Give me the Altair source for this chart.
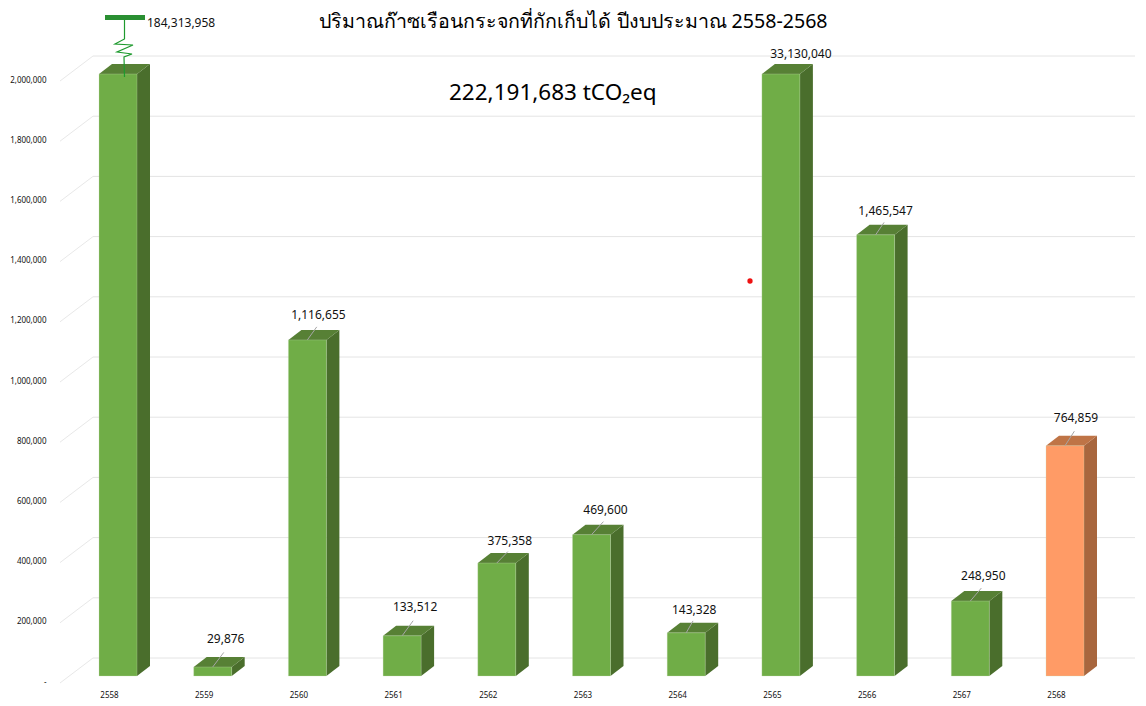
import altair as alt
import pandas as pd

TITLE = "ปริมาณก๊าซเรือนกระจกที่กักเก็บได้ ปีงบประมาณ 2558-2568"
TOTAL = "222,191,683 tCO₂eq"
FONT = "Noto Sans"

years = [2558, 2559, 2560, 2561, 2562, 2563, 2564, 2565, 2566, 2567, 2568]
values = [184313958, 29876, 1116655, 133512, 375358, 469600, 143328,
          33130040, 1465547, 248950, 764859]
tick_values = [0, 200000, 400000, 600000, 800000, 1000000, 1200000,
               1400000, 1600000, 1800000, 2000000]
axis_cap = 2000000

# label placement relative to each bar top, pixels
label_dx = [0, 13, 11, 13, 13, 14, 8, 20, 10, 13, 11]
label_dy = [0, -28, -25, -29, -22, -25, -23, -20, -24, -25, -28]

PX_PER_CAT = 94.7
PX_PER_VAL = 0.000301
W, H = 1075, 680
X0 = (60 - 118) / PX_PER_CAT
X1 = (1135 - 118) / PX_PER_CAT
Y0 = -12 / PX_PER_VAL
Y1 = 668 / PX_PER_VAL


def hx(px):
    return px / PX_PER_CAT


def hy(px):
    return px / PX_PER_VAL


half = hx(19)
dep_x = hx(13)
dep_y = hy(10)

xs = alt.Scale(domain=[X0, X1], nice=False, zero=False)
ys = alt.Scale(domain=[Y0, Y1], nice=False, zero=False)

FRONT, SIDE, TOPF = "#70AD47", "#4A6E2C", "#578035"
FRONT_O, SIDE_O, TOPF_O = "#FF9B66", "#A8663E", "#BF7446"

front, side, top, leaders, labels = [], [], [], [], []
for i, (yr, v) in enumerate(zip(years, values)):
    s = min(v, axis_cap)
    last = yr == 2568
    f, sd, t = (FRONT_O, SIDE_O, TOPF_O) if last else (FRONT, SIDE, TOPF)
    front.append(dict(year=yr, x=i - half, x2=i + half, y=0, y2=s, c=f))
    for x, lo, hi in [(i + half, 0, s), (i + half + dep_x, dep_y, s + dep_y)]:
        side.append(dict(year=yr, x=x, lo=lo, hi=hi, c=sd))
    for x, lo, hi in [(i - half, s, s), (i - half + dep_x, s, s + dep_y),
                      (i + half, s, s + dep_y), (i + half + dep_x, s + dep_y, s + dep_y)]:
        top.append(dict(year=yr, x=x, lo=lo, hi=hi, c=t))
    if i == 0:
        labels.append(dict(x=i + hx(29), y=axis_cap + hy(51), t=f"{v:,}", a="left"))
        continue
    dx, dy = label_dx[i], label_dy[i]
    labels.append(dict(x=i + hx(dx), y=s - hy(dy), t=f"{v:,}", a="center"))
    if yr != 2565:
        leaders.append(dict(x=i, x2=i + hx(dx * 0.85), y=s, y2=s - hy(dy * 0.52)))

front_df = pd.DataFrame(front)
side_df = pd.DataFrame(side)
top_df = pd.DataFrame(top)
leader_df = pd.DataFrame(leaders)
label_df = pd.DataFrame(labels)
grid_df = pd.DataFrame({"v": tick_values})
grid_df["back"] = grid_df.v + hy(18)
grid_df["low"] = grid_df.v - hy(7)
grid_df["xa"] = X0
grid_df["xb"] = X0 + hx(33)
grid_df["xc"] = X1

x_axis = alt.Axis(values=list(range(11)), domain=False, ticks=False, grid=False,
                  labelExpr="datum.value + 2558", labelFontSize=8, labelColor="#111111",
                  labelFont=FONT, labelOffset=-9, labelPadding=3, labelFlush=False)
y_axis = alt.Axis(values=tick_values, domain=False, ticks=False, grid=False,
                  labelExpr="datum.value === 0 ? '-' : format(datum.value, ',')",
                  labelFontSize=8, labelColor="#111111", labelFont=FONT,
                  labelOffset=6, labelPadding=14)
X = alt.X("x:Q", scale=xs, title=None)
Y = alt.Y("y:Q", scale=ys, title=None)
YL = alt.Y("lo:Q", scale=ys, title=None)
color = alt.Color("c:N", scale=None)

grid_back = alt.Chart(grid_df).mark_rule(color="#E4E4E4", strokeWidth=1).encode(
    x=alt.X("xb:Q", scale=xs, axis=x_axis, title=None), x2="xc:Q",
    y=alt.Y("back:Q", scale=ys, axis=y_axis, title=None))
grid_diag = alt.Chart(grid_df).mark_rule(color="#E8E8E8", strokeWidth=1).encode(
    x=alt.X("xa:Q", scale=xs, title=None), x2="xb:Q",
    y=alt.Y("low:Q", scale=ys, title=None), y2="back:Q")

bars = alt.Chart(front_df).mark_rect(stroke="#C5DDB5", strokeWidth=0.3).encode(
    x=X, x2="x2:Q", y=Y, y2="y2:Q", color=color)
side_m = alt.Chart(side_df).mark_area().encode(x=X, y=YL, y2="hi:Q", color=color, detail="year:N")
top_m = alt.Chart(top_df).mark_area().encode(x=X, y=YL, y2="hi:Q", color=color, detail="year:N")

lead = alt.Chart(leader_df).mark_rule(color="#A6A6A6", strokeWidth=1).encode(x=X, x2="x2:Q", y=Y, y2="y2:Q")

center_lab = alt.Chart(label_df[label_df.a == "center"]).mark_text(
    fontSize=12, font=FONT, color="#111111", align="center", baseline="middle"
).encode(x=X, y=Y, text="t:N")
left_lab = alt.Chart(label_df[label_df.a == "left"]).mark_text(
    fontSize=12, font=FONT, color="#111111", align="left", baseline="middle"
).encode(x=X, y=Y, text="t:N")

# axis-break marker above the first (off-scale) bar, pixel offsets from bar centre
zig_px = [(6.5, 54), (6.5, 35), (-3, 30), (15, 29), (-1, 22), (14, 20), (6, 17), (6.5, -3)]
zig_df = pd.DataFrame([{"k": n, "x": hx(a), "y": axis_cap + hy(b)} for n, (a, b) in enumerate(zig_px)])
zig = alt.Chart(zig_df).mark_line(color="#1E9A2E", strokeWidth=1.2).encode(
    x=X, y=Y, order="k:Q")
cap_df = pd.DataFrame([{"x": hx(-13), "x2": hx(27), "y": axis_cap + hy(54), "y2": axis_cap + hy(59)}])
cap = alt.Chart(cap_df).mark_rect(color="#2A8F32").encode(x=X, x2="x2:Q", y=Y, y2="y2:Q")

dot = alt.Chart(pd.DataFrame([{"x": hx(750 - 118), "y": hy(676 - 281)}])).mark_point(
    filled=True, color="#EE1111", size=28, opacity=1).encode(x=X, y=Y)

total = alt.Chart(pd.DataFrame([{"x": hx(449 - 118), "y": hy(676 - 93), "t": TOTAL}])).mark_text(
    fontSize=22.5, font=FONT, color="#000000", align="left", baseline="middle"
).encode(x=X, y=Y, text="t:N")

chart = alt.layer(grid_back, grid_diag, side_m, top_m, bars, lead, center_lab, left_lab,
                  zig, cap, dot, total).properties(
    width=W, height=H,
    padding={"left": 52, "top": 0, "right": 3, "bottom": 14},
    autosize=alt.AutoSizeParams(type="none"),
    background="white",
    title=alt.TitleParams(TITLE, anchor="middle", dx=-24, dy=29, fontSize=19.6,
                          font=FONT, fontWeight="normal", color="#000000"),
).configure_view(stroke=None)

chart.save("out.html", embed_options={"renderer": "svg", "actions": False})
